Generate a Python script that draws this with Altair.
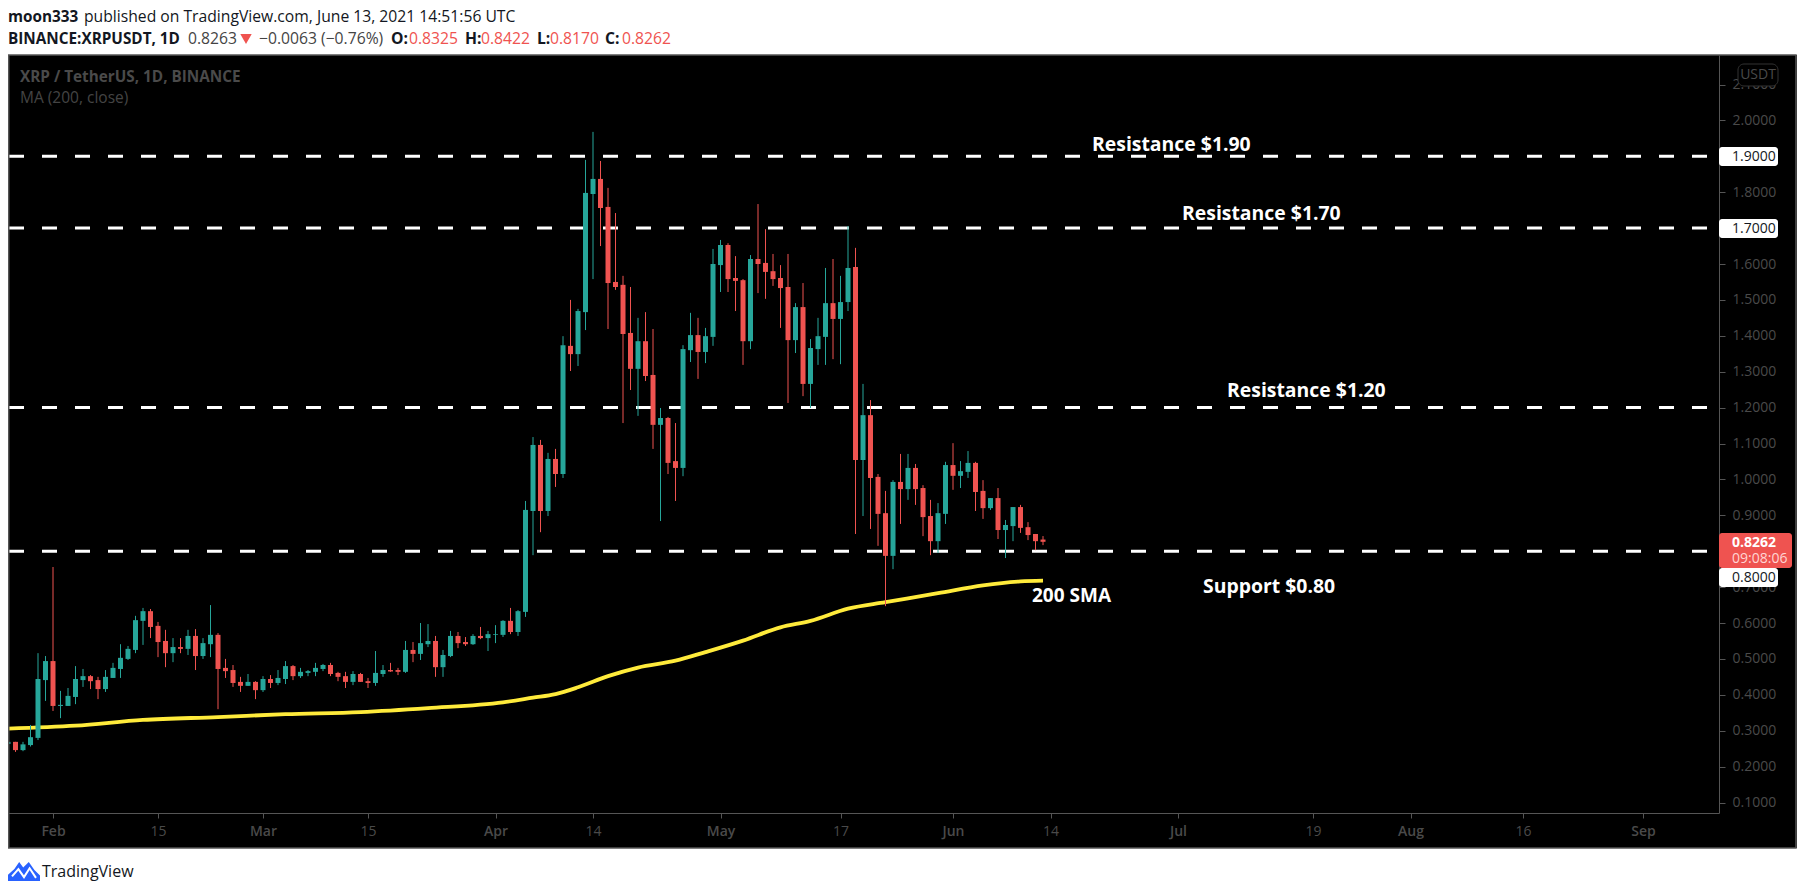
import altair as alt
import numpy as np
import pandas as pd

# Daily OHLC, 26 Jan 2021 to 13 Jun 2021 (139 candles)
open_ = [
 .263,.269,.246,.260,.280,.441,.494,.369,.369,.394,.441,.452,.441,.416,.447,.472,.500,.525,.606,.633,
 .592,.550,.516,.533,.528,.564,.508,.541,.567,.475,.469,.436,.425,.436,.413,.444,.433,.444,.480,.452,
 .461,.464,.472,.483,.461,.452,.436,.458,.438,.433,.458,.469,.469,.464,.525,.514,.541,.550,.477,.508,
 .564,.547,.541,.564,.558,.567,.567,.606,.575,.631,.912,1.096,.912,1.057,1.015,1.372,1.349,1.466,1.795,1.837,
 1.759,1.550,1.542,1.408,1.308,1.385,1.291,1.152,1.171,1.051,1.032,1.360,1.402,1.355,1.397,1.597,1.653,1.561,1.555,1.385,
 1.614,1.603,1.580,1.561,1.536,1.388,1.480,1.266,1.363,1.397,1.491,1.447,1.494,1.592,1.054,1.179,1.007,.906,.787,.993,
 .973,1.032,.976,.898,.828,.904,1.040,1.010,1.021,1.046,.968,.920,.948,.859,.870,.923,.867,.848,.8325]
high = [
 .269,.269,.269,.316,.516,.508,.756,.411,.419,.480,.472,.455,.450,.469,.489,.541,.536,.620,.642,.639,
 .603,.581,.558,.558,.581,.583,.558,.650,.572,.500,.483,.450,.458,.438,.452,.455,.469,.494,.483,.475,
 .469,.489,.486,.489,.464,.464,.466,.461,.447,.522,.483,.489,.475,.550,.547,.600,.597,.564,.525,.578,
 .575,.561,.569,.589,.578,.594,.608,.642,.636,.940,1.118,1.110,1.074,1.085,1.399,1.500,1.475,1.890,1.968,1.887,
 1.812,1.742,1.567,1.536,1.450,1.466,1.419,1.199,1.174,1.157,1.374,1.464,1.450,1.422,1.642,1.667,1.658,1.622,1.558,1.625,
 1.767,1.697,1.628,1.597,1.628,1.491,1.547,1.391,1.450,1.589,1.614,1.567,1.706,1.645,1.266,1.221,1.015,.968,.998,1.071,
 1.071,1.043,.984,.943,.934,1.049,1.101,1.051,1.079,1.049,.998,.948,.976,.887,.923,.929,.881,.848,.8422]
low = [
 .263,.241,.243,.256,.274,.383,.355,.335,.369,.374,.422,.416,.388,.408,.447,.447,.497,.516,.539,.558,
 .505,.477,.491,.516,.511,.469,.500,.505,.360,.447,.422,.408,.425,.388,.408,.419,.427,.430,.441,.447,
 .452,.452,.466,.452,.438,.419,.427,.436,.419,.425,.450,.464,.455,.461,.491,.497,.533,.450,.450,.505,
 .530,.536,.539,.555,.522,.544,.561,.569,.564,.617,.789,.853,.898,.979,1.004,1.302,1.316,1.416,1.558,1.650,
 1.419,1.528,1.157,1.249,1.177,1.274,1.085,.884,1.015,.940,1.009,1.327,1.280,1.324,1.372,1.522,1.522,1.469,1.319,1.363,
 1.519,1.503,1.539,1.422,1.213,1.352,1.232,1.199,1.319,1.319,1.335,1.321,1.469,.848,.898,.862,.815,.647,.750,.876,
 .943,.929,.842,.789,.795,.876,.971,.976,1.004,.912,.890,.915,.834,.781,.828,.851,.831,.803,.8170]
close = [
 .269,.246,.262,.282,.444,.494,.369,.372,.397,.444,.452,.438,.416,.450,.475,.503,.528,.608,.633,.589,
 .547,.516,.533,.528,.564,.508,.544,.567,.472,.466,.433,.425,.436,.413,.444,.433,.447,.480,.452,.464,
 .466,.475,.483,.458,.450,.436,.458,.436,.433,.461,.469,.465,.464,.525,.514,.544,.550,.477,.511,.564,
 .544,.541,.564,.558,.569,.569,.606,.575,.633,.915,1.096,.912,1.057,1.015,1.374,1.349,1.469,1.798,1.837,1.756,
 1.547,1.536,1.405,1.308,1.385,1.288,1.152,1.171,1.046,1.032,1.363,1.402,1.355,1.399,1.600,1.653,1.558,1.553,1.385,1.614,
 1.600,1.578,1.558,1.533,1.388,1.480,1.266,1.366,1.399,1.491,1.447,1.494,1.589,1.054,1.179,1.004,.904,.787,.993,.973,
 1.032,.973,.895,.828,.906,1.040,1.010,1.023,1.046,.965,.920,.948,.859,.873,.923,.865,.845,.828,.8262]

# 200-day moving average: day offset from 1 Feb, price
ma_day = [-6, 3, 12, 22, 31, 41, 50, 60, 64, 67, 70, 74, 78, 83, 87, 92, 97, 101, 106, 111, 118, 124, 129, 132]
ma_val = [.306, .314, .330, .338, .346, .352, .363, .379, .392, .402, .421, .452, .476, .495, .519, .551, .588,
          .606, .640, .658, .683, .705, .716, .718]
levels = [1.9, 1.7, 1.2, 0.8]

price_ticks = [round(i / 10, 1) for i in range(1, 22)]
badge_prices = [1.9, 1.7, 0.8]
time_days = [0, 14, 28, 42, 59, 72, 89, 105, 120, 133, 150, 168, 181, 196, 212]
time_labels = ["Feb", "15", "Mar", "15", "Apr", "14", "May", "17", "Jun", "14", "Jul", "19", "Aug", "16", "Sep"]
month_days = [0, 28, 59, 89, 120, 150, 181, 212]

GREEN, RED, YELLOW = "#26a69a", "#ef5350", "#ffeb3b"
AXIS_TXT, LINE = "#4a4a4a", "#555555"
FONT = "Open Sans"

ohlc = pd.DataFrame({"day": np.arange(-6, 133), "o": open_, "h": high, "l": low, "c": close})
ohlc["up"] = ohlc.c >= ohlc.o
ma = pd.DataFrame({"day": ma_day, "v": ma_val})
lv = pd.DataFrame({"p": levels})
one = pd.DataFrame({"a": [0]})

label_map = "{" + ",".join(f"'{d}':'{t}'" for d, t in zip(time_days, time_labels)) + "}"
x_enc = alt.X("day:Q", title=None,
              scale=alt.Scale(domain=[-6, 222.13], nice=False, zero=False, padding=0),
              axis=alt.Axis(values=time_days, labelExpr=f"{label_map}[datum.value]", grid=False,
                            domainColor=LINE, tickColor=LINE, tickSize=5, labelColor=AXIS_TXT, labelFont=FONT,
                            labelFontSize=14, labelPadding=6, labelFlush=False, labelOverlap=False,
                            labelFontWeight={"expr": f"indexof({month_days}, datum.value) >= 0 ? 600 : 400"}))
y_scale = alt.Scale(domain=[0.0708, 2.1822], nice=False, zero=False)
y_axis = alt.Axis(values=price_ticks, orient="right", grid=False, domainColor=LINE,
                  labelExpr=f"indexof({badge_prices}, datum.value) >= 0 ? '' : format(datum.value, '.4f')",
                  tickColor=LINE, tickSize=6, labelColor=AXIS_TXT, labelFont=FONT, labelFontSize=14,
                  labelPadding=7, labelOverlap=False, labelFlush=False)


def px(x):
    return x - 8


def py(y):
    return y - 55


def text(t, x, y, color="#131722", size=15.7, bold=False, align="left", font=FONT):
    return alt.Chart(pd.DataFrame({"t": [t]})).mark_text(
        color=color, fontSize=size, fontWeight=700 if bold else 400, align=align, baseline="middle", font=font
    ).encode(text="t:N", x=alt.value(px(x)), y=alt.value(py(y)))


def box(x, x2, y, y2, fill, radius=0, stroke=None):
    kw = dict(fill=fill, strokeWidth=1)
    if stroke:
        kw["stroke"] = stroke
    if radius:
        kw["cornerRadius"] = radius
    return alt.Chart(one).mark_rect(**kw).encode(
        x=alt.value(px(x)), x2=alt.value(px(x2)), y=alt.value(py(y)), y2=alt.value(py(y2)))


dashes = alt.Chart(lv).mark_rule(color="white", strokeWidth=3, strokeDash=[15, 18]).encode(
    x=alt.value(1), x2=alt.value(1699), y=alt.Y("p:Q", title=None, scale=y_scale, axis=y_axis))
ma_line = alt.Chart(ma).mark_line(color=YELLOW, strokeWidth=3.8, interpolate="monotone", clip=True).encode(
    x=x_enc, y=alt.Y("v:Q", title=None, scale=y_scale, axis=y_axis))
color = alt.condition("datum.up", alt.value(GREEN), alt.value(RED))
wicks = alt.Chart(ohlc).mark_rule(strokeWidth=1, clip=True).encode(
    x=x_enc, y=alt.Y("l:Q", title=None, scale=y_scale, axis=y_axis), y2="h:Q", color=color)
bodies = alt.Chart(ohlc).mark_bar(size=5, clip=True).encode(
    x=x_enc, y=alt.Y("o:Q", title=None, scale=y_scale, axis=y_axis), y2="c:Q", color=color)

layers = [
    dashes, ma_line, wicks, bodies,
    # white page areas round the black chart frame
    box(8, 1797, 8, 55, "white"),
    box(8, 1797, 848, 886, "white"),
    alt.Chart(one).mark_rect(fill="transparent", stroke=LINE, strokeWidth=1.5).encode(
        x=alt.value(0.75), x2=alt.value(1788), y=alt.value(0), y2=alt.value(793)),
    # header
    text("moon333", 8, 17, bold=True, size=15.3),
    text("published on TradingView.com, June 13, 2021 14:51:56 UTC", 84, 17),
    text("BINANCE:XRPUSDT, 1D", 8, 39, bold=True, size=15.3),
    text("0.8263", 188, 39, color="#444444"),
    alt.Chart(one).mark_point(shape="triangle-down", filled=True, fill=RED, size=130, opacity=1).encode(
        x=alt.value(px(246)), y=alt.value(py(39))),
    text("\u22120.0063 (\u22120.76%)", 259, 39, color="#444444"),
    text("O:", 391, 39, bold=True), text("0.8325", 409, 39, color=RED),
    text("H:", 465, 39, bold=True), text("0.8422", 481, 39, color=RED),
    text("L:", 537, 39, bold=True), text("0.8170", 550, 39, color=RED),
    text("C:", 605, 39, bold=True), text("0.8262", 622, 39, color=RED),
    # chart legend
    text("XRP / TetherUS, 1D, BINANCE", 20, 77, color=AXIS_TXT, bold=True, size=15.3),
    text("MA (200, close)", 20, 98, color="#444444", size=15.5),
    # annotations
    text("Resistance $1.90", 1092, 145, color="white", size=19.4, bold=True),
    text("Resistance $1.70", 1182, 214, color="white", size=19.4, bold=True),
    text("Resistance $1.20", 1227, 391, color="white", size=19.4, bold=True),
    text("Support $0.80", 1203, 587, color="white", size=19.4, bold=True),
    text("200 SMA", 1032, 596, color="white", size=19, bold=True),
    # price axis badges
    box(1738, 1778, 64, 86, "black", radius=6, stroke="#333333"),
    text("USDT", 1758, 75, color=AXIS_TXT, size=14, align="center"),
    box(1719, 1778, 147, 166, "white", radius=3),
    text("1.9000", 1732, 157, color="#131722", size=14),
    box(1719, 1778, 219, 238, "white", radius=3),
    text("1.7000", 1732, 229, color="#131722", size=14),
    box(1719, 1792, 533, 568, RED, radius=3),
    text("0.8262", 1732, 543, color="white", size=14, bold=True),
    text("09:08:06", 1732, 559, color="#ffd5d3", size=14),
    box(1719, 1778, 568, 587, "white", radius=3),
    text("0.8000", 1732, 578, color="#131722", size=14),
    # footer logo
    alt.Chart(one).mark_point(
        shape="M-1,0.6 L-1,0.2 L-0.6,-0.15 L-0.3,-0.6 L-0.05,-0.25 L0.3,-0.6 L0.65,-0.1 L1,0.25 L1,0.6 Z",
        filled=True, fill="#2962ff", size=1024, opacity=1, strokeWidth=0
    ).encode(x=alt.value(px(24)), y=alt.value(py(871.5))),
    alt.Chart(one).mark_point(
        shape="M-0.75,0.3 L-0.35,-0.15 L0,0.35 L0.35,-0.2 L0.75,0.4",
        filled=False, stroke="white", strokeWidth=2, size=1024, opacity=1
    ).encode(x=alt.value(px(24)), y=alt.value(py(871.5))),
    text("TradingView", 42, 872, color="#131722", size=16),
]

chart = alt.layer(*layers).properties(
    width=1711, height=758, background="black",
    padding={"left": 0, "top": 47, "right": 78, "bottom": 73},
    autosize=alt.AutoSizeParams(type="none"),
).configure_view(stroke=None)

chart.save("out.html", embed_options={"renderer": "svg", "actions": False})
